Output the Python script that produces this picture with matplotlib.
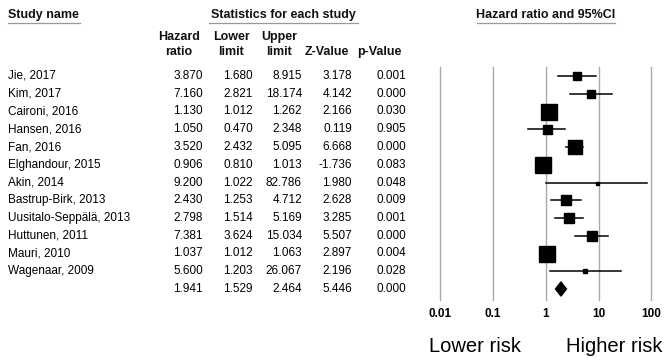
import numpy as np
import matplotlib
matplotlib.use("Agg")
from matplotlib import pyplot as plt
from matplotlib.patches import Polygon

plt.rcParams['font.family'] = ['Liberation Sans', 'DejaVu Sans']

studies = ['Jie, 2017', 'Kim, 2017', 'Caironi, 2016', 'Hansen, 2016', 'Fan, 2016',
           'Elghandour, 2015', 'Akin, 2014', 'Bastrup-Birk, 2013',
           'Uusitalo-Seppälä, 2013', 'Huttunen, 2011', 'Mauri, 2010', 'Wagenaar, 2009']
hr = [3.870, 7.160, 1.130, 1.050, 3.520, 0.906, 9.200, 2.430, 2.798, 7.381, 1.037, 5.600]
lower = [1.680, 2.821, 1.012, 0.470, 2.432, 0.810, 1.022, 1.253, 1.514, 3.624, 1.012, 1.203]
upper = [8.915, 18.174, 1.262, 2.348, 5.095, 1.013, 82.786, 4.712, 5.169, 15.034, 1.063, 26.067]
zval = [3.178, 4.142, 2.166, 0.119, 6.668, -1.736, 1.980, 2.628, 3.285, 5.507, 2.897, 2.196]
pval = [0.001, 0.000, 0.030, 0.905, 0.000, 0.083, 0.048, 0.009, 0.001, 0.000, 0.004, 0.028]
# relative weight (box size) of each study
weight = [8, 8, 16, 9, 14, 16, 3, 10, 10, 10, 16, 5]

pooled = [1.941, 1.529, 2.464, 5.446, 0.000]

ticks = [0.01, 0.1, 1, 10, 100]
tick_labels = ['0.01', '0.1', '1', '10', '100']

W, H = 665, 361
fig = plt.figure(figsize=(W / 100, H / 100), dpi=100)

# row i sits at pixel 76 + 17.75*i
row_h = 17.75
y0 = 76
ylim = ((H - y0) / row_h, -y0 / row_h)

def row_of(px):
    return (px - y0) / row_h

# text layer, x in pixels
ax_t = fig.add_axes([0, 0, 1, 1])
ax_t.set_xlim(0, W)
ax_t.set_ylim(*ylim)
ax_t.axis('off')

# forest layer
fx0, fx1 = 420, 665
ax_f = fig.add_axes([fx0 / W, 0, (fx1 - fx0) / W, 1])
ax_f.patch.set_alpha(0)
ax_f.set_xscale('log')
dec = 52.85
ax_f.set_xlim(10 ** (-2 - (440 - fx0) / dec), 10 ** (2 + (fx1 - 651.5) / dec))
ax_f.set_ylim(*ylim)
ax_f.axis('off')

fs = 8.5
# headers
hdr = dict(fontsize=9, fontweight='bold', color='#111111')
ax_t.text(8, row_of(15), 'Study name', ha='left', va='center', **hdr)
ax_t.text(283, row_of(15), 'Statistics for each study', ha='center', va='center', **hdr)
ax_t.text(546, row_of(15), 'Hazard ratio and 95%CI', ha='center', va='center', **hdr)
for xa, xb in [(8, 80), (209, 358), (477, 615)]:
    ax_t.plot([xa, xb], [row_of(23)] * 2, color='#999999', lw=0.9)

col_right = [203, 253, 302, 352, 406]
col_hdr = [('Hazard', 'ratio'), ('Lower', 'limit'), ('Upper', 'limit'), ('', 'Z-Value'), ('', 'p-Value')]
col_center = [179, 231, 279, 327, 379]
for xc, (l1, l2) in zip(col_center, col_hdr):
    if l1:
        ax_t.text(xc, row_of(37), l1, ha='center', va='center', **hdr)
    ax_t.text(xc, row_of(52), l2, ha='center', va='center', **hdr)

# study rows
for i, name in enumerate(studies):
    vals = [hr[i], lower[i], upper[i], zval[i], pval[i]]
    ax_t.text(8, i, name, ha='left', va='center', fontsize=fs)
    for xr, v in zip(col_right, vals):
        ax_t.text(xr, i, f'{v:.3f}', ha='right', va='center', fontsize=fs)

n = len(studies)
for xr, v in zip(col_right, pooled):
    ax_t.text(xr, n, f'{v:.3f}', ha='right', va='center', fontsize=fs)

# grid lines
for t in ticks:
    ax_f.plot([t, t], [row_of(67), row_of(300)], color='#aaaaaa', lw=1, zorder=1)

# CIs and boxes
for i in range(n):
    ax_f.plot([lower[i], upper[i]], [i, i], color='black', lw=1.1, zorder=2)
    ax_f.plot(hr[i], i, marker='s', ms=weight[i] * 0.72, color='black', zorder=3)

# pooled diamond
d = 0.4
ax_f.add_patch(Polygon([(pooled[1], n), (pooled[0], n - d), (pooled[2], n), (pooled[0], n + d)],
                       closed=True, color='black', zorder=3))

for t, lab in zip(ticks, tick_labels):
    ax_f.text(t, row_of(314), lab, ha='center', va='center', fontsize=fs, fontweight='bold')

ax_t.text(475, row_of(347), 'Lower risk', ha='center', va='center', fontsize=14.5)
ax_t.text(614, row_of(347), 'Higher risk', ha='center', va='center', fontsize=14.5)

fig.savefig('out.png', dpi=100)
